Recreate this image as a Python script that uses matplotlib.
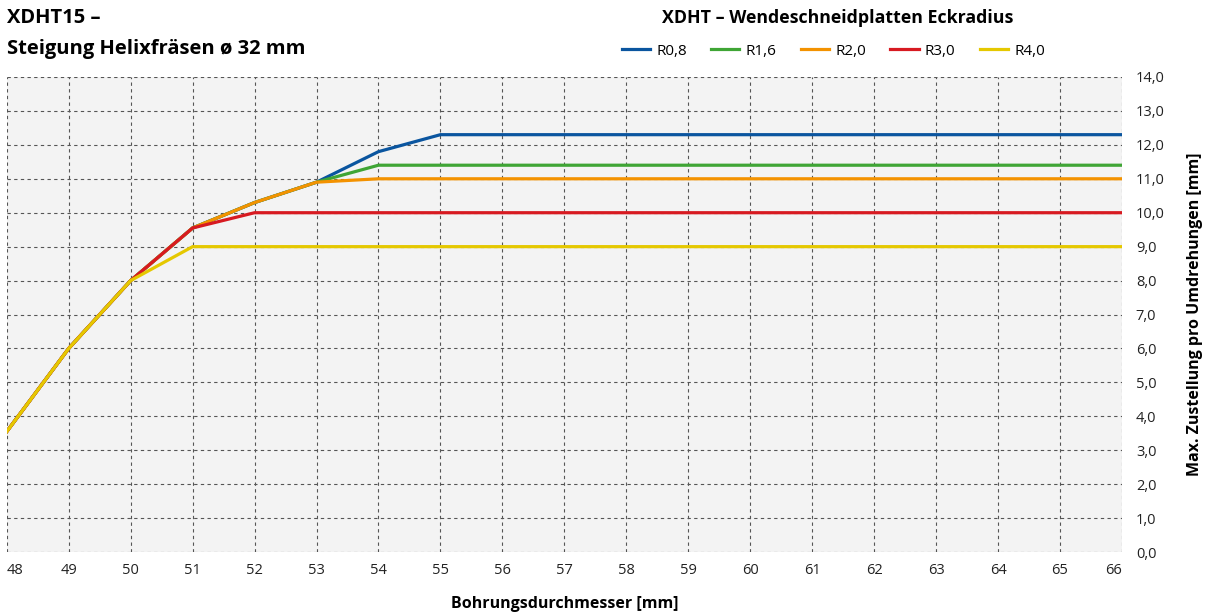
import matplotlib
matplotlib.use("Agg")
import matplotlib.pyplot as plt

plt.rcParams["font.family"] = ["Open Sans", "DejaVu Sans"]

# data
diameter = [48, 49, 50, 51, 52, 53, 54, 55, 56, 57, 58, 59, 60, 61, 62, 63, 64, 65, 66]
r08 = [3.55, 6.0, 8.0, 9.55, 10.3, 10.9, 11.8, 12.3, 12.3, 12.3, 12.3, 12.3, 12.3, 12.3, 12.3, 12.3, 12.3, 12.3, 12.3]
r16 = [3.55, 6.0, 8.0, 9.55, 10.3, 10.9, 11.4, 11.4, 11.4, 11.4, 11.4, 11.4, 11.4, 11.4, 11.4, 11.4, 11.4, 11.4, 11.4]
r20 = [3.55, 6.0, 8.0, 9.55, 10.3, 10.9, 11.0, 11.0, 11.0, 11.0, 11.0, 11.0, 11.0, 11.0, 11.0, 11.0, 11.0, 11.0, 11.0]
r30 = [3.55, 6.0, 8.0, 9.55, 10.0, 10.0, 10.0, 10.0, 10.0, 10.0, 10.0, 10.0, 10.0, 10.0, 10.0, 10.0, 10.0, 10.0, 10.0]
r40 = [3.55, 6.0, 8.0, 9.0, 9.0, 9.0, 9.0, 9.0, 9.0, 9.0, 9.0, 9.0, 9.0, 9.0, 9.0, 9.0, 9.0, 9.0, 9.0]
series_names = ["R0,8", "R1,6", "R2,0", "R3,0", "R4,0"]
y_ticks = [0, 1, 2, 3, 4, 5, 6, 7, 8, 9, 10, 11, 12, 13, 14]
y_tick_labels = ["0,0", "1,0", "2,0", "3,0", "4,0", "5,0", "6,0", "7,0", "8,0", "9,0",
                 "10,0", "11,0", "12,0", "13,0", "14,0"]

colors = ["#0a559f", "#3fa535", "#f39200", "#d71a21", "#e5c800"]

fig = plt.figure(figsize=(12.06, 6.15), dpi=100)
ax = fig.add_axes([0.0056, 0.1024, 0.9247, 0.7724])
ax.set_facecolor("#f3f3f3")

for vals, name, c in zip([r08, r16, r20, r30, r40], series_names, colors):
    ax.plot(diameter, vals, color=c, linewidth=2.3, label=name, solid_joinstyle="miter")

ax.set_xlim(48, 66)
ax.set_ylim(0, 14)
ax.set_xticks(diameter)
ax.set_xticklabels([str(d) for d in diameter])
ax.set_yticks(y_ticks)
ax.set_yticklabels(y_tick_labels)
ax.yaxis.tick_right()
ax.yaxis.set_label_position("right")
ax.tick_params(axis="both", length=0, labelsize=10.5, colors="#222222")
ax.tick_params(axis="y", pad=10)
ax.tick_params(axis="x", pad=8)
# edge labels stay inside the plot width
xlbls = ax.get_xticklabels()
xlbls[0].set_horizontalalignment("left")
xlbls[-1].set_horizontalalignment("right")
for s in ax.spines.values():
    s.set_visible(False)
ax.grid(True, color="#555555", linestyle=(0, (3, 3)), linewidth=0.8)
ax.set_axisbelow(True)

ax.set_xlabel("Bohrungsdurchmesser [mm]", fontsize=11.5, fontweight="bold", labelpad=13)
ax.set_ylabel("Max. Zustellung pro Umdrehungen [mm]", fontsize=11.5, fontweight="bold", labelpad=16)

fig.text(0.006, 0.962, "XDHT15 –", fontsize=14.5, fontweight="bold", va="baseline")
fig.text(0.006, 0.913, "Steigung Helixfräsen ø 32 mm", fontsize=14.5, fontweight="bold", va="baseline")

fig.text(0.695, 0.962, "XDHT – Wendeschneidplatten Eckradius", fontsize=12.8, fontweight="bold",
         ha="center", va="baseline")
fig.legend(loc="center", bbox_to_anchor=(0.691, 0.917), ncol=5, frameon=False,
           fontsize=11, handlelength=1.85, handletextpad=0.4, columnspacing=1.6,
           borderpad=0, borderaxespad=0)

fig.savefig("out.png", dpi=100)
